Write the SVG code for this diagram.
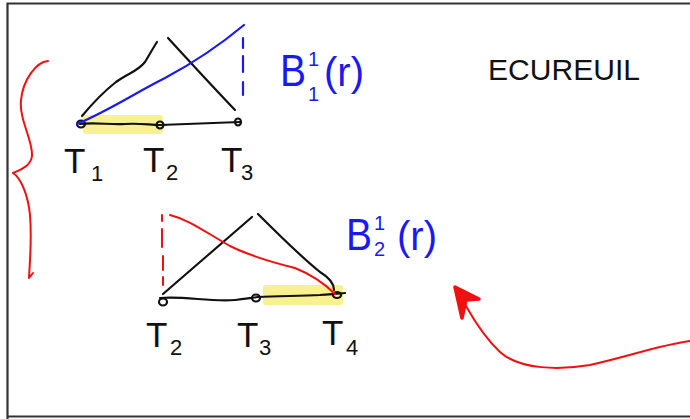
<svg xmlns="http://www.w3.org/2000/svg" width="690" height="419" viewBox="0 0 690 419">
<style>
.k{fill:none;stroke:#111;stroke-width:2.2;stroke-linecap:round;stroke-linejoin:round}
.b{fill:none;stroke:#1a1aee;stroke-width:2.2;stroke-linecap:round}
.r{fill:none;stroke:#f01010;stroke-width:2;stroke-linecap:round;stroke-linejoin:round}
.hl{fill:#f5ec6a;opacity:0.75}
.t{font-family:"Liberation Sans",Arial,sans-serif;fill:#111}
.bt{font-family:"Liberation Sans",Arial,sans-serif;fill:#1a1aee}
</style>
<rect width="690" height="419" fill="#fff"/>
<path d="M7.5,419 V3.5 H690 M7.5,416.5 H690" fill="none" stroke="#333" stroke-width="2.2"/>

<g id="brace">
<path class="r" d="M48,61 C36,62 23,80 21,100 C19,120 33,140 32,156 C31,166 20,170 13,173 C21,178 28,195 30,215 C32,240 30,258 29,278 L33,273"/>
</g>

<g id="top-graph">
<rect class="hl" x="83" y="115" width="80" height="19" rx="3"/>
<path class="k" d="M80,124 C95,122 110,125 125,124 C140,123 150,125 160,125 C190,124 215,123 240,122"/>
<path class="k" d="M82,116 C92,104 102,93 116,82 C128,73 137,72 145,62 C150,54 153,48 157,42"/>
<path class="k" d="M168,38 C190,62 212,86 235,110"/>
<ellipse class="k" cx="81" cy="124" rx="4" ry="3.5" stroke-width="2.8"/>
<ellipse class="k" cx="160" cy="125" rx="3.5" ry="3.5" fill="#111"/>
<ellipse class="k" cx="238" cy="122" rx="3" ry="3.5"/>
<path class="b" d="M77,124 C110,110 135,93 165,78 C195,62 220,45 244,25"/>
<path class="b" d="M243,38 V48 M243,56 V72 M243,82 V95"/>
<text class="t" x="64" y="173" font-size="35">T</text>
<text class="t" x="91" y="181" font-size="22">1</text>
<text class="t" x="143" y="172" font-size="35">T</text>
<text class="t" x="166" y="180" font-size="22">2</text>
<text class="t" x="221" y="172" font-size="35">T</text>
<text class="t" x="241" y="180" font-size="22">3</text>
</g>

<g id="label-b11">
<text class="bt" x="280" y="86" font-size="44" textLength="26" lengthAdjust="spacingAndGlyphs">B</text>
<text class="bt" x="308" y="66" font-size="20">1</text>
<text class="bt" x="308" y="101" font-size="20">1</text>
<text class="bt" x="324" y="86" font-size="40">(r)</text>
</g>

<g id="title">
<text class="t" x="488" y="80" font-size="30" textLength="152" lengthAdjust="spacingAndGlyphs">ECUREUIL</text>
</g>

<g id="bottom-graph">
<rect class="hl" x="263" y="285" width="80" height="20" rx="3"/>
<path class="k" d="M160,298 C185,296 210,302 235,300 C245,299 250,298 258,297 C280,296 300,296 320,295 C330,294 338,294 345,293"/>
<path class="k" d="M163,294 C193,268 222,243 252,217"/>
<path class="k" d="M258,214 C280,236 300,256 320,272 C330,278 334,283 334,290"/>
<ellipse class="k" cx="163" cy="302" rx="4" ry="3.5"/>
<ellipse class="k" cx="256" cy="298" rx="4" ry="3.5" stroke-width="2.8"/>
<ellipse class="k" cx="337" cy="295" rx="4" ry="3" stroke-width="2.8"/>
<path class="r" d="M170,215 C190,220 205,232 230,246 C250,256 275,263 295,268 C310,274 325,284 335,294"/>
<path class="r" d="M162,215 V221 M162,229 V247 M163,256 V270 M163,277 V285"/>
<text class="t" x="146" y="347" font-size="35">T</text>
<text class="t" x="170" y="355" font-size="22">2</text>
<text class="t" x="237" y="347" font-size="35">T</text>
<text class="t" x="259" y="355" font-size="22">3</text>
<text class="t" x="322" y="345" font-size="35">T</text>
<text class="t" x="346" y="355" font-size="22">4</text>
</g>

<g id="label-b21">
<text class="bt" x="346" y="250" font-size="44" textLength="26" lengthAdjust="spacingAndGlyphs">B</text>
<text class="bt" x="374" y="230" font-size="20">1</text>
<text class="bt" x="374" y="256" font-size="20">2</text>
<text class="bt" x="397" y="250" font-size="40">(r)</text>
</g>

<g id="connectors">
<path class="r" d="M690,341 C660,345 630,356 590,365 C560,370 520,370 500,352 C485,338 475,322 466,306"/>
<path d="M462,318 L455,287 L479,299 L466,300 Z" fill="#f01010" stroke="#f01010" stroke-width="3.5" stroke-linejoin="round"/>
</g>
</svg>
